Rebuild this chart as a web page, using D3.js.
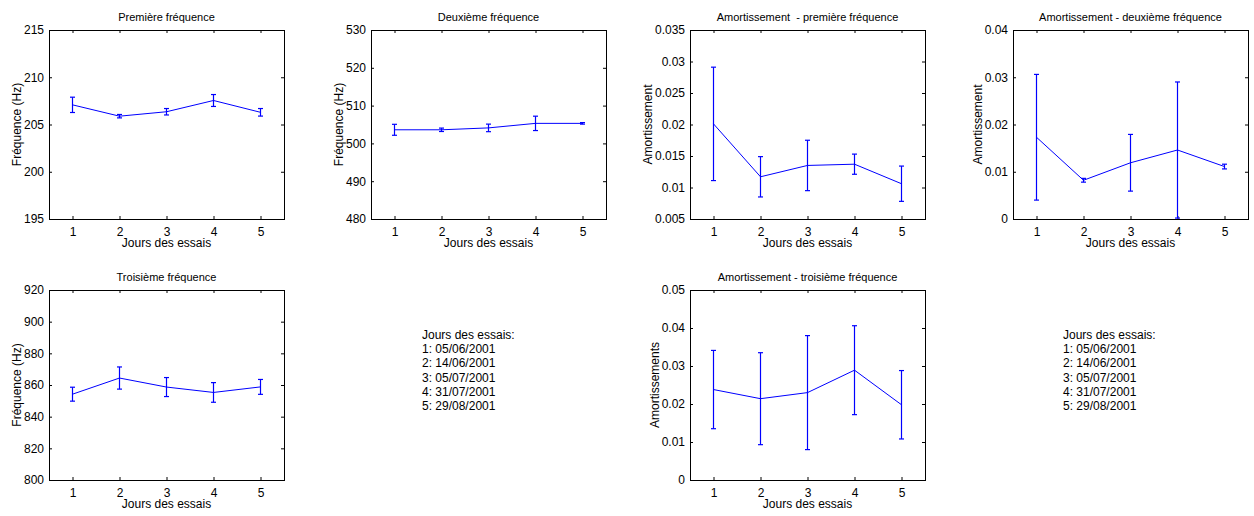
<!DOCTYPE html>
<html>
<head>
<meta charset="utf-8">
<script src="https://cdn.jsdelivr.net/npm/d3@7"></script>
<style>
  html, body { margin: 0; padding: 0; background: #fff; }
  svg { display: block; }
  text { font-family: "Liberation Sans", Arial, sans-serif; fill: #000; }
  .title { font-size: 11px; white-space: pre; }
  .label { font-size: 12px; }
  .tick text { font-size: 12px; }
  .notes { font-size: 12px; }
</style>
</head>
<body>
<svg id="fig" width="1254" height="516"></svg>
<script>
// Test days (x axis) and the dates they stand for
const jours = [1, 2, 3, 4, 5];
const dates = ["05/06/2001", "14/06/2001", "05/07/2001", "31/07/2001", "29/08/2001"];

// Natural frequencies (Hz): mean and half-width of the error bar
const freq1 = [207.08, 205.88, 206.35, 207.54, 206.29];
const freq1Err = [0.81, 0.18, 0.34, 0.63, 0.40];
const freq2 = [503.6, 503.6, 504.1, 505.3, 505.3];
const freq2Err = [1.45, 0.45, 1.0, 1.9, 0.2];
const freq3 = [854.2, 864.4, 858.7, 855.3, 858.8];
const freq3Err = [4.4, 7.0, 6.0, 6.2, 4.7];

// Damping ratios: mean and half-width of the error bar
const amort1 = [0.0201, 0.0117, 0.0135, 0.0137, 0.0106];
const amort1Err = [0.0090, 0.0032, 0.0040, 0.0016, 0.0028];
const amort2 = [0.0173, 0.0082, 0.0119, 0.0146, 0.0111];
const amort2Err = [0.0133, 0.0004, 0.0060, 0.0144, 0.0005];
const amort3 = [0.0238, 0.0214, 0.0230, 0.0289, 0.0198];
const amort3Err = [0.0103, 0.0121, 0.0150, 0.0117, 0.0090];

// Y tick values for each panel
const ticksFreq1 = [195, 200, 205, 210, 215];
const ticksFreq2 = [480, 490, 500, 510, 520, 530];
const ticksFreq3 = [800, 820, 840, 860, 880, 900, 920];
const ticksAmort1 = [0.005, 0.01, 0.015, 0.02, 0.025, 0.03, 0.035];
const ticksAmort2 = [0, 0.01, 0.02, 0.03, 0.04];
const ticksAmort3 = [0, 0.01, 0.02, 0.03, 0.04, 0.05];

const svg = d3.select("#fig");
svg.append("rect").attr("width", 1254).attr("height", 516).attr("fill", "#fff");

const colLeft = [49, 371, 690, 1013];
const rowTop = [30, 290];
const boxW = 235;
const rowH = [189, 190];
const BLUE = "#0000ff";
const fmt = d3.format("~g");

const panels = [
  { col: 0, row: 0, title: "Première fréquence", ylab: "Fréquence (Hz)", y: freq1, e: freq1Err, ticks: ticksFreq1 },
  { col: 1, row: 0, title: "Deuxième fréquence", ylab: "Fréquence (Hz)", y: freq2, e: freq2Err, ticks: ticksFreq2 },
  { col: 2, row: 0, title: "Amortissement  - première fréquence", ylab: "Amortissement", y: amort1, e: amort1Err, ticks: ticksAmort1 },
  { col: 3, row: 0, title: "Amortissement - deuxième fréquence", ylab: "Amortissement", y: amort2, e: amort2Err, ticks: ticksAmort2 },
  { col: 0, row: 1, title: "Troisième fréquence", ylab: "Fréquence (Hz)", y: freq3, e: freq3Err, ticks: ticksFreq3 },
  { col: 2, row: 1, title: "Amortissement - troisième fréquence", ylab: "Amortissements", y: amort3, e: amort3Err, ticks: ticksAmort3 }
];

panels.forEach(p => {
  const x0 = colLeft[p.col], y0 = rowTop[p.row], h = rowH[p.row];
  const g = svg.append("g").attr("transform", `translate(${x0},${y0})`);
  const x = d3.scaleLinear().domain([0.5, 5.5]).range([0, boxW]);
  const y = d3.scaleLinear().domain(d3.extent(p.ticks)).range([h, 0]);

  // axes with inward ticks on all four sides
  const gl = g.append("g").call(d3.axisLeft(y).tickValues(p.ticks).tickFormat(fmt).tickSize(-3).tickPadding(5));
  g.append("g").attr("transform", `translate(${boxW},0)`)
    .call(d3.axisRight(y).tickValues(p.ticks).tickFormat("").tickSize(-3));
  g.append("g").attr("transform", `translate(0,${h})`)
    .call(d3.axisBottom(x).tickValues(jours).tickFormat(d3.format("d")).tickSize(-3).tickPadding(8));
  g.append("g").call(d3.axisTop(x).tickValues(jours).tickFormat("").tickSize(-3));
  g.selectAll(".domain").remove();
  g.selectAll(".tick line").attr("stroke", "#000");

  g.append("rect").attr("x", 0.5).attr("y", 0.5).attr("width", boxW).attr("height", h)
    .attr("fill", "none").attr("stroke", "#000").attr("stroke-width", 1);

  // mean line
  const pts = jours.map((d, i) => [x(d), y(p.y[i])]);
  g.append("path").attr("d", d3.line()(pts)).attr("fill", "none")
    .attr("stroke", BLUE).attr("stroke-width", 1);

  // error bars
  const cap = 2.5;
  jours.forEach((d, i) => {
    const cx = x(d), yt = y(p.y[i] + p.e[i]), yb = y(p.y[i] - p.e[i]);
    const eb = g.append("g").attr("stroke", BLUE).attr("stroke-width", 1.2);
    eb.append("line").attr("x1", cx).attr("x2", cx).attr("y1", yt).attr("y2", yb);
    eb.append("line").attr("x1", cx - cap).attr("x2", cx + cap).attr("y1", yt).attr("y2", yt);
    eb.append("line").attr("x1", cx - cap).attr("x2", cx + cap).attr("y1", yb).attr("y2", yb);
  });

  // title and axis labels
  g.append("text").attr("class", "title").attr("x", boxW / 2).attr("y", -9)
    .attr("text-anchor", "middle").text(p.title);
  g.append("text").attr("class", "label").attr("x", boxW / 2).attr("y", h + 28)
    .attr("text-anchor", "middle").text("Jours des essais");
  let tw = 0;
  gl.selectAll(".tick text").each(function () { tw = Math.max(tw, this.getComputedTextLength()); });
  g.append("text").attr("class", "label")
    .attr("transform", `translate(${-(tw + 8)},${h / 2}) rotate(-90)`)
    .attr("text-anchor", "middle").text(p.ylab);
});

// date legend blocks
const noteLines = ["Jours des essais:"].concat(jours.map((d, i) => `${d}: ${dates[i]}`));
[422, 1063].forEach(nx => {
  const t = svg.append("text").attr("class", "notes");
  noteLines.forEach((s, i) => {
    t.append("tspan").attr("x", nx).attr("y", 339 + i * 14.2).text(s);
  });
});
</script>
</body>
</html>
